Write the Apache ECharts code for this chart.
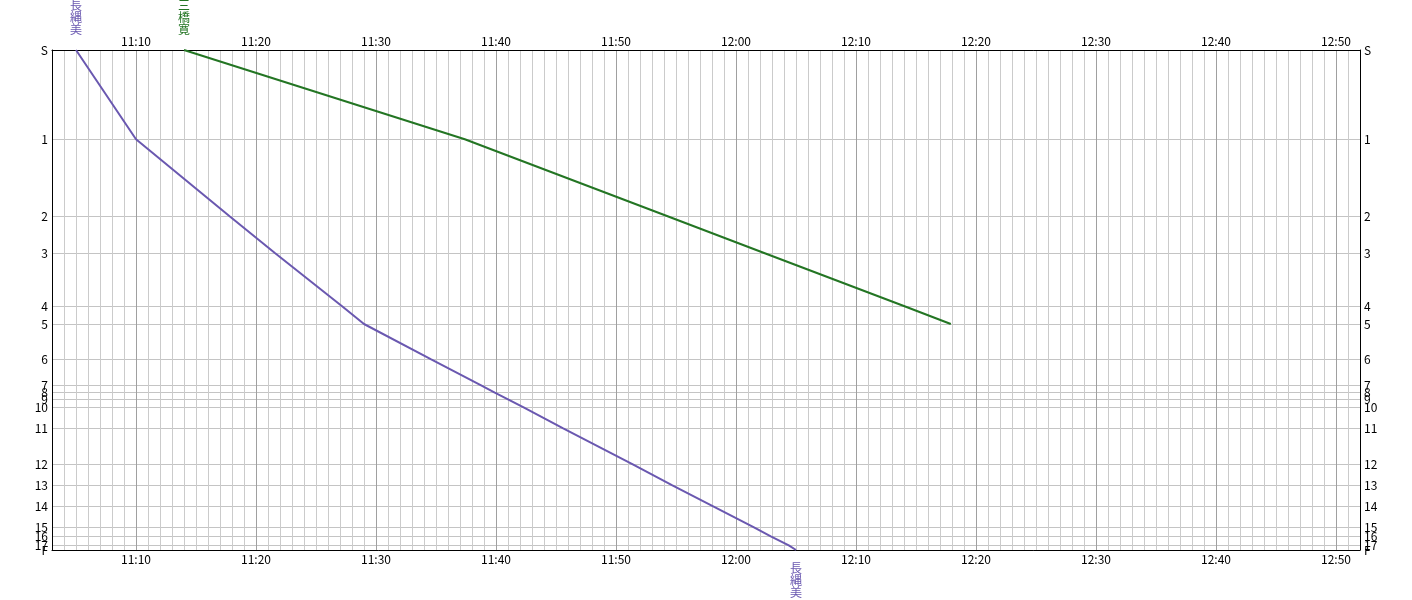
<!DOCTYPE html>
<html>
<head>
<meta charset="utf-8">
<script src="https://cdn.jsdelivr.net/npm/echarts@6/dist/echarts.min.js"></script>
<style>
html, body { margin: 0; padding: 0; background: #fff; }
#chart { width: 1412px; height: 600px; }
</style>
</head>
<body>
<div id="chart"></div>
<script>
// コース (距離は累積, m)
var stations = ['S', '1', '2', '3', '4', '5', '6', '7', '8', '9', '10', '11', '12', '13', '14', '15', '16', '17', 'F'];
var stationDist = [0, 893, 1663, 2033, 2565, 2740, 3093, 3357, 3427, 3493, 3573, 3783, 4143, 4353, 4563, 4773, 4863, 4953, 5000];
var timeTicks = ['11:10', '11:20', '11:30', '11:40', '11:50', '12:00', '12:10', '12:20', '12:30', '12:40', '12:50'];

// 選手ごとの通過時刻
var runners = ['長縄美', '三橋寛'];
var runnerColors = ['#6a58b0', '#237523'];
var splitsA = ['11:05:00', '11:10:00', '11:17:48', '11:21:36', '11:27:12', '11:29:00', '11:34:36', '11:38:48', '11:39:54',
    '11:41:00', '11:42:18', '11:45:36', '11:51:24', '11:54:42', '11:58:06', '12:01:30', '12:02:54', '12:04:24', '12:05:00'];
var splitsB = ['11:14:00', '11:37:24', '11:54:18', '12:02:24', '12:14:06', '12:17:54'];

function toMin(s) {
    var p = s.split(':');
    return (+p[0]) * 60 + (+p[1]) + (p[2] ? (+p[2]) / 60 : 0);
}
function fmtTime(v) {
    var h = Math.floor(v / 60), m = Math.round(v % 60);
    return h + ':' + (m < 10 ? '0' + m : m);
}
function stationName(v) {
    var i = stationDist.indexOf(v);
    return i < 0 ? '' : stations[i];
}

var FONT = 'Noto Sans CJK JP';

function lineData(splits) {
    return splits.map(function (t, i) { return [toMin(t), stationDist[i]]; });
}
// スタート上とゴール下の名前ラベル (縦書き)
function nameData(splits, idx, finished) {
    var name = runners[idx].split('').join('\n');
    var out = [];
    var ends = finished ? [0, splits.length - 1] : [0];
    ends.forEach(function (i) {
        out.push({
            value: [toMin(splits[i]), stationDist[i]],
            label: {
                show: true,
                position: i === 0 ? 'top' : 'bottom',
                distance: i === 0 ? 14 : 12,
                formatter: name,
                color: runnerColors[idx],
                fontFamily: FONT,
                fontSize: 12,
                lineHeight: 12,
                align: 'center'
            }
        });
    });
    return out;
}

var xMin = toMin('11:03');
var xMax = toMin('12:52');
var labelVals = timeTicks.map(function (t) { return toMin(t); });

// 分ごとの縦線 (10分ごとに濃く)
var lineColors = [];
for (var k = 0; k < 10; k++) {
    lineColors.push(((xMin + k) % 10 === 0) ? '#a0a0a0' : '#cbcbcb');
}

function xAxis(pos, grid) {
    return {
        type: 'value',
        position: pos,
        min: xMin,
        max: xMax,
        interval: 1,
        axisLine: { show: true, onZero: false, lineStyle: { color: '#000', width: 1 } },
        axisTick: { show: false },
        axisLabel: {
            customValues: labelVals,
            formatter: fmtTime,
            color: '#000',
            fontFamily: FONT,
            fontSize: 12,
            margin: 3
        },
        splitLine: { show: grid, lineStyle: { color: lineColors, width: 1 } }
    };
}
// 端のラベル同士が重なると消されるので, 16/F と 17 は別の軸で描く
var labelGroups = [
    stationDist.slice(0, 16),
    [stationDist[16], stationDist[18]],
    [stationDist[17]]
];
function yAxis(pos, grid, labels, main) {
    return {
        type: 'value',
        position: pos,
        inverse: true,
        min: 0,
        max: 5000,
        axisLine: { show: main, onZero: false, lineStyle: { color: '#000', width: 1 } },
        axisTick: { show: false, customValues: stationDist },
        axisLabel: {
            customValues: labels,
            formatter: stationName,
            hideOverlap: false,
            color: '#000',
            fontFamily: FONT,
            fontSize: 12,
            margin: 4
        },
        splitLine: { show: grid, lineStyle: { color: '#c4c4c4', width: 1 } }
    };
}
var yAxes = [];
['left', 'right'].forEach(function (pos, p) {
    labelGroups.forEach(function (g, j) {
        yAxes.push(yAxis(pos, p === 0 && j === 0, g, j === 0));
    });
});

var chart = echarts.init(document.getElementById('chart'));
chart.setOption({
    animation: false,
    backgroundColor: '#fff',
    grid: { left: 52, right: 52, top: 50, bottom: 50, containLabel: false },
    xAxis: [xAxis('bottom', true), xAxis('top', false)],
    yAxis: yAxes,
    series: [{
        name: runners[0],
        type: 'line',
        symbol: 'none',
        lineStyle: { color: runnerColors[0], width: 2 },
        data: lineData(splitsA)
    }, {
        name: runners[1],
        type: 'line',
        symbol: 'none',
        lineStyle: { color: runnerColors[1], width: 2 },
        data: lineData(splitsB)
    }, {
        type: 'scatter',
        symbolSize: 1,
        itemStyle: { color: 'rgba(0,0,0,0)', opacity: 1 },
        data: nameData(splitsA, 0, true).concat(nameData(splitsB, 1, false)),
        z: 5
    }]
});
</script>
</body>
</html>
